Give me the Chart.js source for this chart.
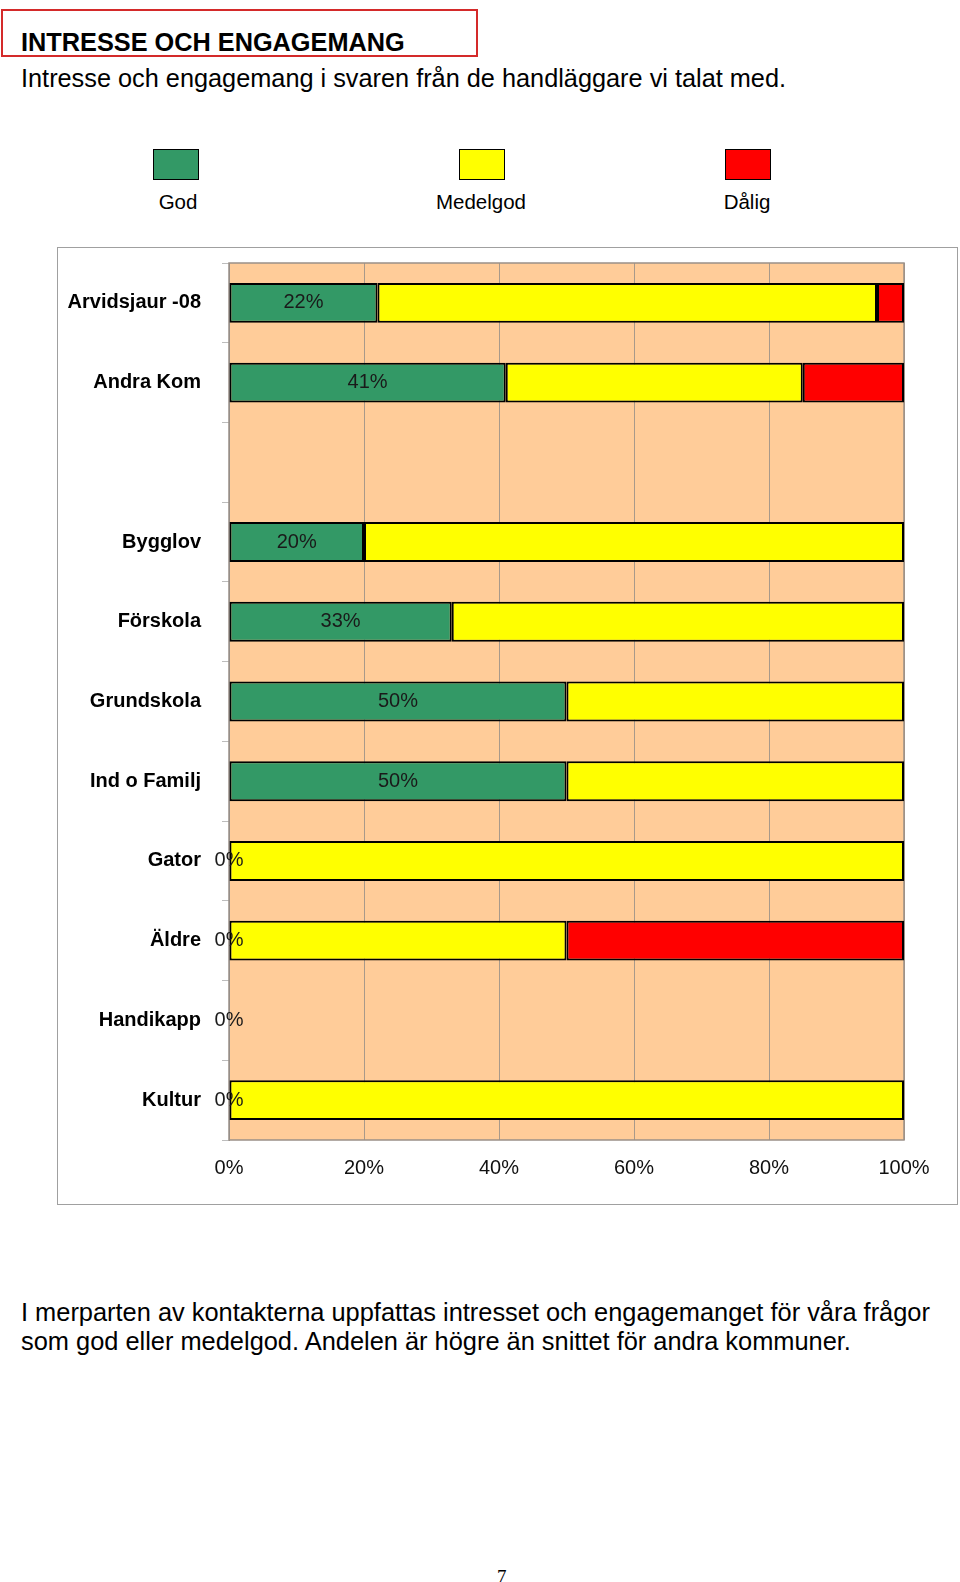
<!DOCTYPE html>
<html>
<head>
<meta charset="utf-8">
<script src="https://cdn.jsdelivr.net/npm/chart.js@4.4.1/dist/chart.umd.min.js"></script>
<style>
  body { margin: 0; width: 960px; height: 1582px; position: relative; background: #fff; overflow: hidden;
         font-family: "Liberation Sans", Arial, sans-serif; color: #000; }
  .abs { position: absolute; white-space: nowrap; }
  #titlebox { position: absolute; left: 1px; top: 9px; width: 473px; height: 44px; border: 2px solid #d42a2a; }
  #title { left: 21px; top: 28px; font-size: 25.3px; font-weight: bold; line-height: 29px; }
  #subtitle { left: 21px; top: 64px; font-size: 25.3px; line-height: 29px; }
  .legbox { position: absolute; width: 44px; height: 29px; border: 1.5px solid #000; }
  .leglab { position: absolute; font-size: 20.5px; line-height: 24px; transform: translateX(-50%); top: 190px; }
  #chartbox { position: absolute; left: 57px; top: 247px; width: 901px; height: 958px; border: 1px solid #a0a0a0; box-sizing: border-box; }
  #chartbox canvas { position: absolute; left: 0; top: 0; }
  #text { left: 21px; top: 1298px; font-size: 25.4px; line-height: 29px; }
  #page { left: 497px; top: 1566px; font-family: "Liberation Serif", "DejaVu Serif", serif; font-size: 19px; }
</style>
</head>
<body>
<div id="titlebox"></div>
<div class="abs" id="title">INTRESSE OCH ENGAGEMANG</div>
<div class="abs" id="subtitle">Intresse och engagemang i svaren från de handläggare vi talat med.</div>
<div id="legend"></div>
<div id="chartbox"><canvas id="myChart" width="899" height="956"></canvas></div>
<div class="abs" id="text">I merparten av kontakterna uppfattas intresset och engagemanget för våra frågor<br>som god eller medelgod. Andelen är högre än snittet för andra kommuner.</div>
<div class="abs" id="page">7</div>
<script>
const categories = ["Arvidsjaur -08", "Andra Kom", "", "Bygglov", "Förskola", "Grundskola", "Ind o Familj", "Gator", "Äldre", "Handikapp", "Kultur"];
const seriesNames = ["God", "Medelgod", "Dålig"];
const god = [22, 41, null, 20, 33, 50, 50, 0, 0, 0, 0];
const medelgod = [74, 44, null, 80, 67, 50, 50, 100, 50, 0, 100];
const dalig = [4, 15, null, 0, 0, 0, 0, 0, 50, 0, 0];
const xTicks = [0, 20, 40, 60, 80, 100];

const colors = ["#339966", "#FFFF00", "#FF0000"];
const FONT = "'Liberation Sans', Arial, sans-serif";

// legend above the chart box
const legendPos = [{ box: 153, lab: 178 }, { box: 459, lab: 481 }, { box: 725, lab: 747 }];
const legend = document.getElementById("legend");
seriesNames.forEach((name, i) => {
    const b = document.createElement("div");
    b.className = "legbox";
    b.style.left = legendPos[i].box + "px";
    b.style.top = "149px";
    b.style.background = colors[i];
    legend.appendChild(b);
    const l = document.createElement("div");
    l.className = "leglab";
    l.style.left = legendPos[i].lab + "px";
    l.textContent = name;
    legend.appendChild(l);
});

const plotArea = {
    id: "plotArea",
    beforeDraw(chart) {
        const { ctx, chartArea: a } = chart;
        ctx.save();
        ctx.fillStyle = "#FFCC99";
        ctx.fillRect(a.left, a.top, a.right - a.left, a.bottom - a.top);
        ctx.restore();
    },
    beforeDatasetsDraw(chart) {
        const { ctx, chartArea: a } = chart;
        ctx.save();
        ctx.strokeStyle = "#9a9088";
        ctx.lineWidth = 1.5;
        ctx.strokeRect(a.left, a.top, a.right - a.left, a.bottom - a.top);
        ctx.restore();
    },
};

const godLabels = {
    id: "godLabels",
    afterDatasetsDraw(chart) {
        const { ctx } = chart;
        const meta = chart.getDatasetMeta(0);
        ctx.save();
        ctx.font = "20px " + FONT;
        ctx.fillStyle = "#1a1a1a";
        ctx.textAlign = "center";
        ctx.textBaseline = "middle";
        meta.data.forEach((el, i) => {
            const v = god[i];
            if (v === null) return;
            ctx.fillText(v + "%", (el.x + el.base) / 2, el.y);
        });
        ctx.restore();
    },
};

Chart.defaults.font.family = FONT;
Chart.defaults.color = "#000";

const ctx = document.getElementById("myChart").getContext("2d");
const myChart = new Chart(ctx, {
    type: "bar",
    data: {
        labels: categories,
        datasets: [god, medelgod, dalig].map((d, i) => ({
            label: seriesNames[i],
            data: d,
            backgroundColor: colors[i],
            borderColor: "#000",
            borderWidth: 2,
            borderSkipped: false,
            categoryPercentage: 0.5,
            barPercentage: 1.0,
        })),
    },
    options: {
        indexAxis: "y",
        responsive: false,
        animation: false,
        layout: { padding: { top: 15, right: 53, left: 0, bottom: 0 } },
        plugins: {
            legend: { display: false },
            tooltip: { enabled: false },
        },
        scales: {
            x: {
                stacked: true,
                min: 0,
                max: 100,
                afterBuildTicks: (s) => { s.ticks = xTicks.map(v => ({ value: v })); },
                afterFit: (s) => { s.height = 64; s.paddingLeft = 0; s.paddingRight = 0; },
                grid: { color: "#a8998a", lineWidth: 1, drawTicks: false },
                border: { display: false },
                ticks: {
                    padding: 16,
                    font: { size: 20 },
                    color: "#111",
                    callback: (v) => v + "%",
                },
            },
            y: {
                stacked: true,
                afterFit: (s) => { s.width = 171; s.paddingTop = 0; s.paddingBottom = 0; },
                grid: { drawOnChartArea: false, drawTicks: true, tickLength: 7, color: "#bdbdbd", offset: true },
                border: { display: true, color: "#8a8a8a", width: 1 },
                ticks: {
                    padding: 21,
                    font: { size: 20, weight: "bold" },
                    color: "#000",
                },
            },
        },
    },
    plugins: [plotArea, godLabels],
});
</script>
</body>
</html>
